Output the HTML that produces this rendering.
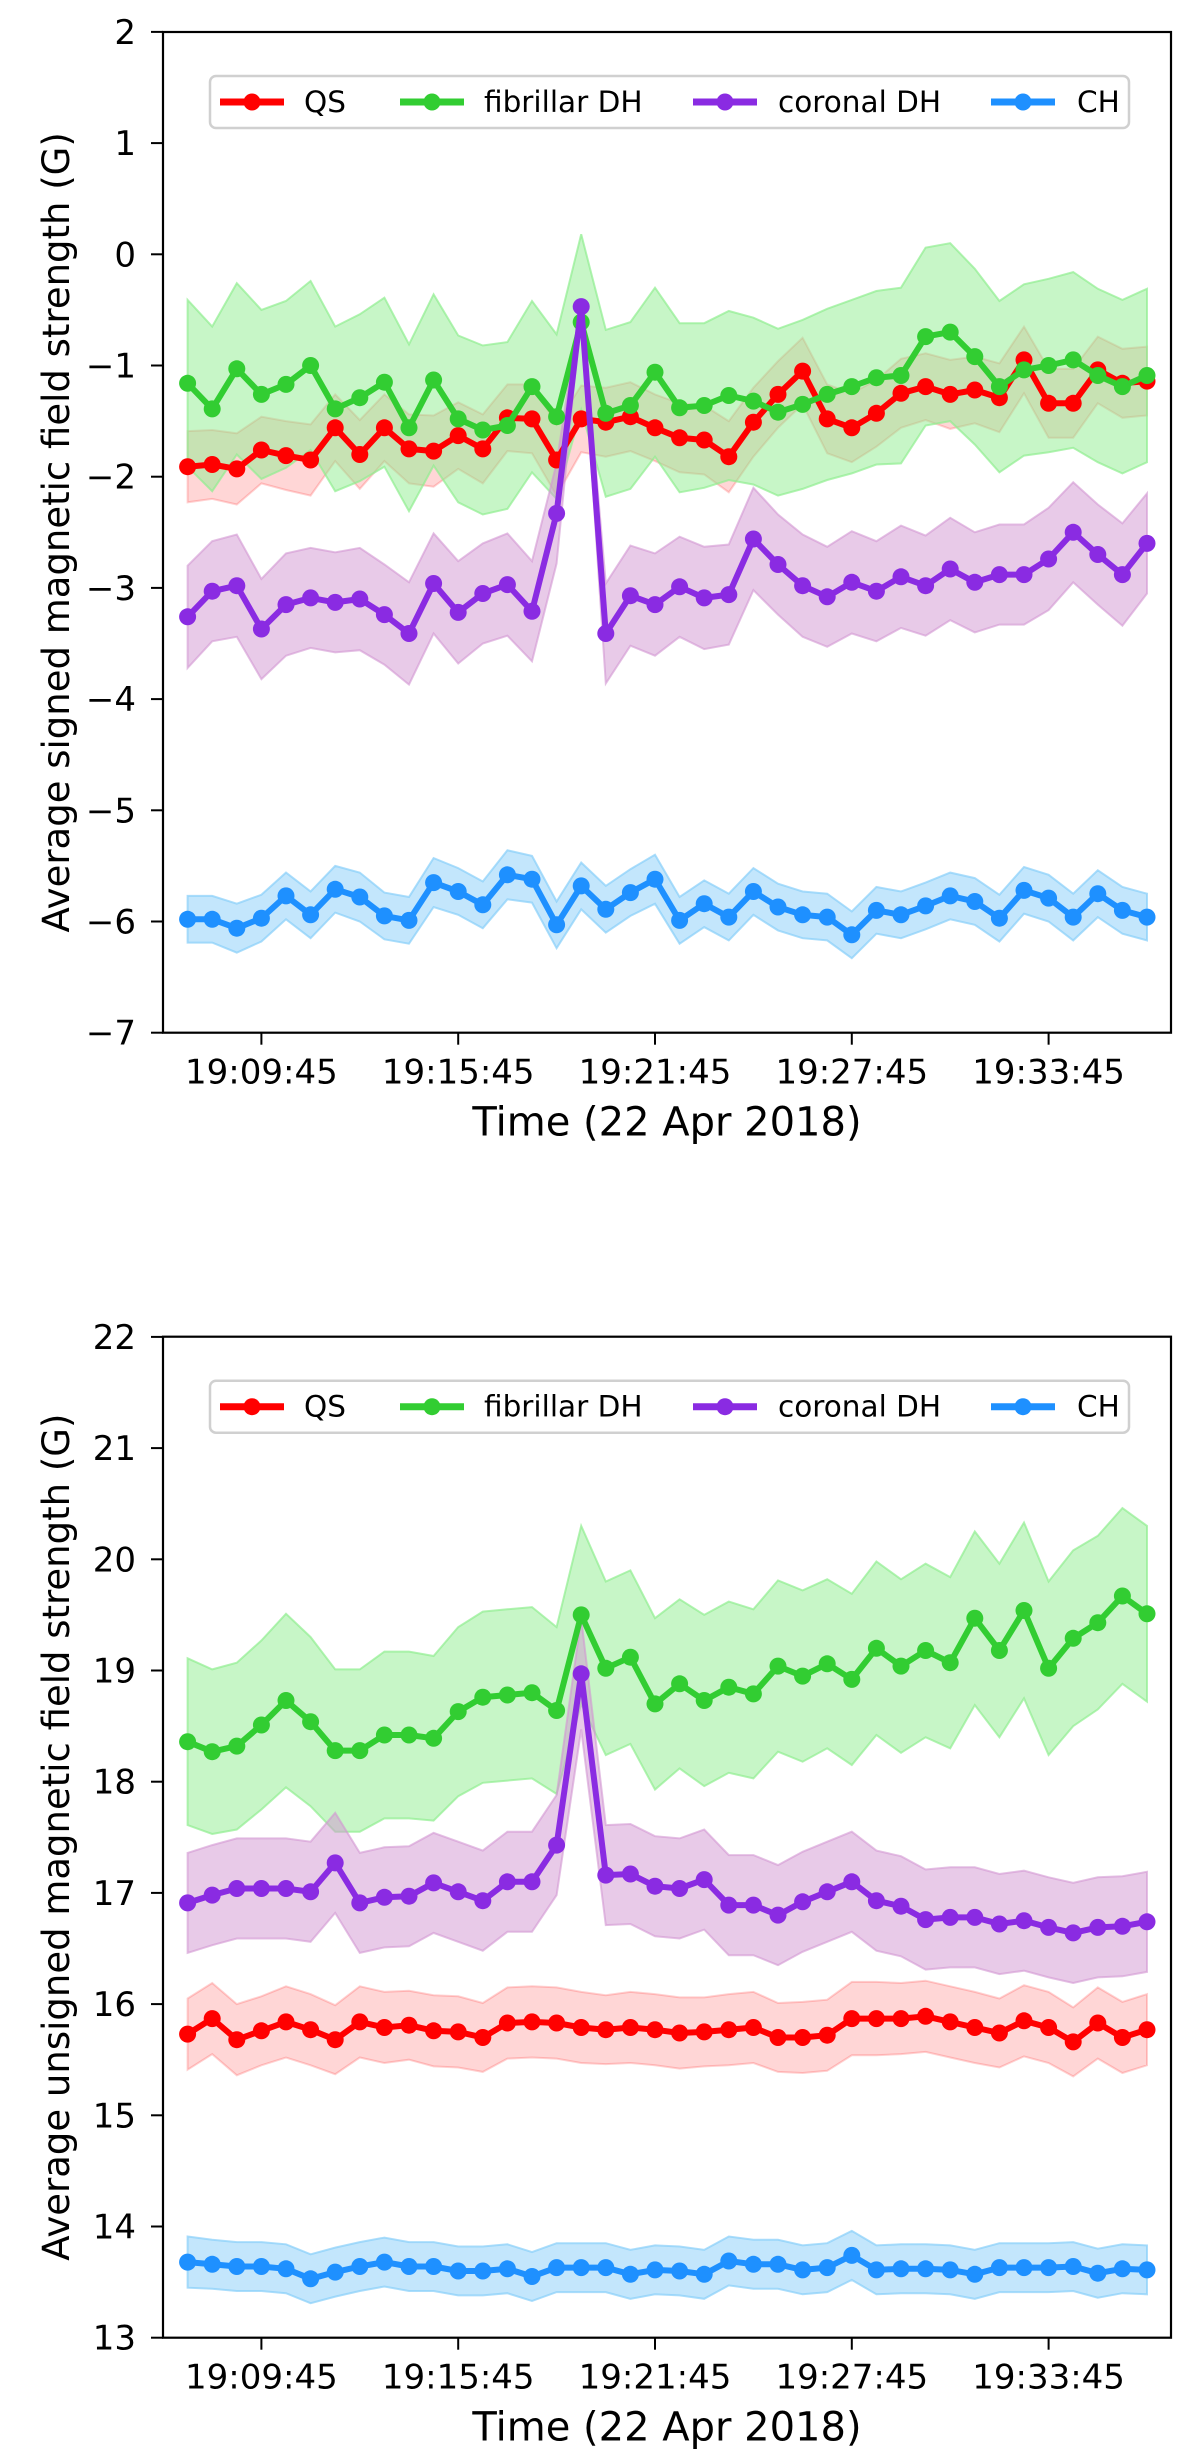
<!DOCTYPE html>
<html><head><meta charset="utf-8"><style>
html,body{margin:0;padding:0;background:#fff;}
svg{display:block;font-family:"DejaVu Sans","Liberation Sans",sans-serif;}
</style></head><body>
<svg id="fig" width="1200" height="2464" viewBox="0 0 1200 2464" xmlns="http://www.w3.org/2000/svg"></svg>
<script>
// ---- data ----
const tickLabels = ["19:09:45","19:15:45","19:21:45","19:27:45","19:33:45"];
const tickMinutes = [9.75,15.75,21.75,27.75,33.75];
const seriesNames = ["QS","fibrillar DH","coronal DH","CH"];
const startMinute = 7.5; // 19:07:30
const stepMinute = 0.75; // 45 s cadence

const topQS = [-1.91,-1.89,-1.93,-1.76,-1.81,-1.85,-1.56,-1.80,-1.56,-1.75,-1.77,-1.63,-1.75,-1.47,-1.48,-1.85,-1.48,-1.51,-1.46,-1.56,-1.65,-1.67,-1.82,-1.51,-1.26,-1.05,-1.48,-1.56,-1.43,-1.25,-1.19,-1.26,-1.22,-1.29,-0.95,-1.34,-1.34,-1.04,-1.16,-1.14];
const topFDH = [-1.16,-1.39,-1.03,-1.26,-1.17,-1.00,-1.39,-1.29,-1.15,-1.56,-1.13,-1.48,-1.58,-1.54,-1.19,-1.46,-0.61,-1.43,-1.36,-1.06,-1.38,-1.36,-1.27,-1.32,-1.42,-1.35,-1.26,-1.19,-1.11,-1.09,-0.74,-0.70,-0.92,-1.19,-1.04,-1.00,-0.95,-1.09,-1.19,-1.09];
const topCDH = [-3.26,-3.03,-2.98,-3.37,-3.15,-3.09,-3.13,-3.10,-3.24,-3.41,-2.96,-3.22,-3.05,-2.97,-3.21,-2.33,-0.47,-3.41,-3.07,-3.15,-2.99,-3.09,-3.06,-2.56,-2.79,-2.98,-3.08,-2.95,-3.03,-2.90,-2.98,-2.83,-2.95,-2.88,-2.88,-2.74,-2.50,-2.70,-2.88,-2.60];
const topCH = [-5.98,-5.98,-6.06,-5.97,-5.77,-5.94,-5.71,-5.78,-5.95,-5.99,-5.65,-5.73,-5.85,-5.58,-5.62,-6.03,-5.68,-5.89,-5.74,-5.62,-5.99,-5.84,-5.96,-5.73,-5.87,-5.94,-5.96,-6.12,-5.90,-5.94,-5.86,-5.77,-5.82,-5.97,-5.72,-5.79,-5.96,-5.75,-5.90,-5.96];
const topQSerr = [0.32,0.31,0.32,0.30,0.31,0.32,0.30,0.31,0.30,0.31,0.32,0.30,0.31,0.30,0.31,0.32,0.30,0.31,0.31,0.30,0.31,0.31,0.32,0.31,0.30,0.30,0.31,0.31,0.30,0.31,0.30,0.31,0.30,0.31,0.30,0.31,0.31,0.30,0.31,0.31];
const topFDHerr = [0.75,0.74,0.77,0.76,0.75,0.76,0.74,0.75,0.76,0.75,0.77,0.75,0.76,0.75,0.77,0.74,0.79,0.75,0.75,0.76,0.76,0.74,0.76,0.75,0.75,0.76,0.77,0.78,0.78,0.79,0.80,0.80,0.79,0.77,0.77,0.78,0.79,0.78,0.78,0.78];
const topCDHerr = [0.46,0.45,0.46,0.45,0.46,0.45,0.45,0.46,0.45,0.46,0.45,0.46,0.45,0.46,0.45,0.45,0.05,0.45,0.45,0.46,0.45,0.46,0.45,0.46,0.45,0.46,0.45,0.46,0.45,0.46,0.45,0.46,0.45,0.45,0.45,0.46,0.45,0.45,0.46,0.45];
const topCHerr = [0.21,0.21,0.22,0.21,0.21,0.21,0.21,0.22,0.21,0.21,0.22,0.21,0.21,0.22,0.21,0.21,0.21,0.21,0.21,0.22,0.21,0.21,0.21,0.21,0.21,0.21,0.21,0.21,0.21,0.21,0.21,0.21,0.21,0.21,0.21,0.21,0.21,0.21,0.21,0.21];

const botQS = [15.73,15.87,15.68,15.76,15.84,15.77,15.68,15.84,15.79,15.81,15.76,15.75,15.70,15.83,15.84,15.83,15.79,15.77,15.79,15.77,15.74,15.75,15.77,15.79,15.70,15.70,15.72,15.87,15.87,15.87,15.89,15.84,15.79,15.74,15.85,15.79,15.66,15.83,15.70,15.77];
const botFDH = [18.36,18.27,18.32,18.51,18.73,18.54,18.28,18.28,18.42,18.42,18.39,18.63,18.76,18.78,18.80,18.64,19.50,19.02,19.12,18.70,18.88,18.73,18.85,18.79,19.04,18.95,19.06,18.92,19.20,19.04,19.18,19.07,19.47,19.18,19.54,19.02,19.29,19.43,19.67,19.51];
const botCDH = [16.91,16.98,17.04,17.04,17.04,17.01,17.27,16.91,16.96,16.97,17.09,17.01,16.93,17.10,17.10,17.43,18.97,17.16,17.17,17.06,17.04,17.12,16.89,16.89,16.80,16.92,17.01,17.10,16.93,16.88,16.76,16.78,16.78,16.72,16.75,16.69,16.64,16.69,16.70,16.74];
const botCH = [13.68,13.66,13.64,13.64,13.62,13.53,13.59,13.64,13.68,13.64,13.64,13.60,13.60,13.62,13.55,13.63,13.63,13.63,13.57,13.61,13.60,13.57,13.69,13.66,13.66,13.61,13.63,13.74,13.61,13.62,13.62,13.61,13.57,13.63,13.63,13.63,13.64,13.58,13.62,13.61];
const botQSerr = [0.32,0.32,0.32,0.31,0.32,0.32,0.31,0.32,0.32,0.31,0.32,0.32,0.31,0.32,0.32,0.32,0.32,0.31,0.32,0.32,0.32,0.31,0.32,0.32,0.31,0.32,0.32,0.33,0.33,0.32,0.32,0.32,0.32,0.31,0.32,0.32,0.31,0.32,0.32,0.32];
const botFDHerr = [0.75,0.74,0.75,0.76,0.78,0.76,0.73,0.73,0.75,0.75,0.74,0.76,0.77,0.77,0.77,0.75,0.80,0.78,0.78,0.77,0.76,0.77,0.77,0.76,0.77,0.77,0.76,0.77,0.78,0.78,0.78,0.77,0.78,0.78,0.79,0.78,0.79,0.78,0.79,0.79];
const botCDHerr = [0.45,0.45,0.45,0.45,0.45,0.45,0.45,0.45,0.45,0.45,0.45,0.45,0.45,0.45,0.45,0.45,0.50,0.45,0.45,0.45,0.45,0.45,0.45,0.45,0.45,0.45,0.45,0.45,0.45,0.45,0.45,0.45,0.45,0.45,0.45,0.45,0.45,0.45,0.45,0.45];
const botCHerr = [0.23,0.22,0.22,0.22,0.22,0.22,0.22,0.22,0.22,0.22,0.22,0.22,0.22,0.22,0.22,0.22,0.22,0.22,0.22,0.22,0.22,0.22,0.22,0.22,0.22,0.22,0.22,0.22,0.22,0.22,0.22,0.22,0.22,0.22,0.22,0.22,0.22,0.22,0.22,0.22];

const topYTicks = [2,1,0,-1,-2,-3,-4,-5,-6,-7];
const botYTicks = [22,21,20,19,18,17,16,15,14,13];

// ---- rendering ----
const NS = "http://www.w3.org/2000/svg";
const svg = document.getElementById("fig");
const colors = ["#ff0000","#32cd32","#8a2be2","#1e90ff"];
const bandFill = ["rgba(255,0,0,0.16)","rgba(144,238,144,0.5)","rgba(210,150,210,0.5)","rgba(135,206,250,0.5)"];
const bandEdge = ["rgba(255,0,0,0.18)","rgba(144,238,144,0.7)","rgba(210,150,210,0.6)","rgba(135,206,250,0.7)"];
const X0 = 163, X1 = 1171, XMIN = 6.75, PXPERMIN = 32.8;
function xs(t){ return X0 + (t - XMIN) * PXPERMIN; }
function el(tag, attrs, parent){
  const e = document.createElementNS(NS, tag);
  for (const k in attrs) e.setAttribute(k, attrs[k]);
  (parent || svg).appendChild(e);
  return e;
}

function drawChart(cfg){
  const g = el("g", {});
  
  
  const ys = v => cfg.yBot - (v - cfg.yMin) * cfg.pxPerUnit;
  const n = cfg.series[0].length;
  const tx = i => xs(startMinute + stepMinute * i);
  cfg.series.forEach((s, k) => {
    const err = cfg.errs[k];
    let pts = [];
    for (let i = 0; i < n; i++) pts.push(tx(i).toFixed(1) + "," + ys(s[i] + err[i]).toFixed(1));
    for (let i = n - 1; i >= 0; i--) pts.push(tx(i).toFixed(1) + "," + ys(s[i] - err[i]).toFixed(1));
    const p = el("polygon", {points: pts.join(" "), fill: bandFill[k], stroke: bandEdge[k], "stroke-width": 2}, g);
    
    
  });
  cfg.series.forEach((s, k) => {
    const sg = el("g", {}, g);
    
    
    let d = "";
    for (let i = 0; i < n; i++) d += (i ? "L" : "M") + tx(i).toFixed(1) + "," + ys(s[i]).toFixed(1);
    el("path", {d: d, fill: "none", stroke: colors[k], "stroke-width": 6, "stroke-linejoin": "round"}, sg);
    for (let i = 0; i < n; i++) {
      const c = el("circle", {cx: tx(i).toFixed(1), cy: ys(s[i]).toFixed(1), r: 8.5, fill: colors[k]}, sg);
      
      
    }
  });
  const fr = el("rect", {x: X0, y: cfg.yTop, width: X1 - X0, height: cfg.yBot - cfg.yTop, fill: "none", stroke: "#000", "stroke-width": 2.2}, g);
  
  
  cfg.yTicks.forEach(v => {
    const y = ys(v);
    el("line", {x1: X0 - 12, x2: X0, y1: y, y2: y, stroke: "#000", "stroke-width": 2}, g);
    const t = el("text", {x: 136, y: y + 12, "text-anchor": "end", "font-size": 34, fill: "#000"}, g);
    t.textContent = v < 0 ? "\u2212" + Math.abs(v) : String(v);
    
    
  });
  tickMinutes.forEach((m, i) => {
    const x = xs(m);
    el("line", {x1: x, x2: x, y1: cfg.yBot, y2: cfg.yBot + 12, stroke: "#000", "stroke-width": 2}, g);
    const t = el("text", {x: x, y: cfg.yBot + 51, "text-anchor": "middle", "font-size": 34, fill: "#000"}, g);
    t.textContent = tickLabels[i];
    
    
  });
  const xt = el("text", {x: (X0 + X1) / 2, y: cfg.yBot + 103, "text-anchor": "middle", "font-size": 40, fill: "#000"}, g);
  xt.textContent = "Time (22 Apr 2018)";
  
  
  const ym = (cfg.yTop + cfg.yBot) / 2;
  const yt = el("text", {x: 0, y: 0, transform: "translate(69," + ym + ") rotate(-90)", "text-anchor": "middle", "font-size": 37, fill: "#000"}, g);
  yt.textContent = cfg.ylabel;
  
  
  const lg = el("g", {}, g);
  
  
  const ly = cfg.yTop + 44;
  el("rect", {x: 210, y: ly, width: 919, height: 52, rx: 6, fill: "rgba(255,255,255,0.8)", stroke: "#d0d0d0", "stroke-width": 2.5}, lg);
  const hx = [220, 400, 693, 991];
  const tx2 = [304, 484, 778, 1077];
  const cy = ly + 26;
  seriesNames.forEach((nm, k) => {
    const eg = el("g", {}, lg);
    
    
    el("line", {x1: hx[k], x2: hx[k] + 64, y1: cy, y2: cy, stroke: colors[k], "stroke-width": 7}, eg);
    el("circle", {cx: hx[k] + 32, cy: cy, r: 8.5, fill: colors[k]}, eg);
    const t = el("text", {x: tx2[k], y: cy + 10, "font-size": 29.5, fill: "#000"}, eg);
    t.textContent = nm;
  });
}

drawChart({name: "signed-field-chart", yTop: 32, yBot: 1032.7, yMin: -7, pxPerUnit: 111.2,
  series: [topQS, topFDH, topCDH, topCH], errs: [topQSerr, topFDHerr, topCDHerr, topCHerr],
  yTicks: topYTicks, ylabel: "Average signed magnetic field strength (G)"});
drawChart({name: "unsigned-field-chart", yTop: 1336.7, yBot: 2337.7, yMin: 13, pxPerUnit: 111.2,
  series: [botQS, botFDH, botCDH, botCH], errs: [botQSerr, botFDHerr, botCDHerr, botCHerr],
  yTicks: botYTicks, ylabel: "Average unsigned magnetic field strength (G)"});
</script>
</body></html>
